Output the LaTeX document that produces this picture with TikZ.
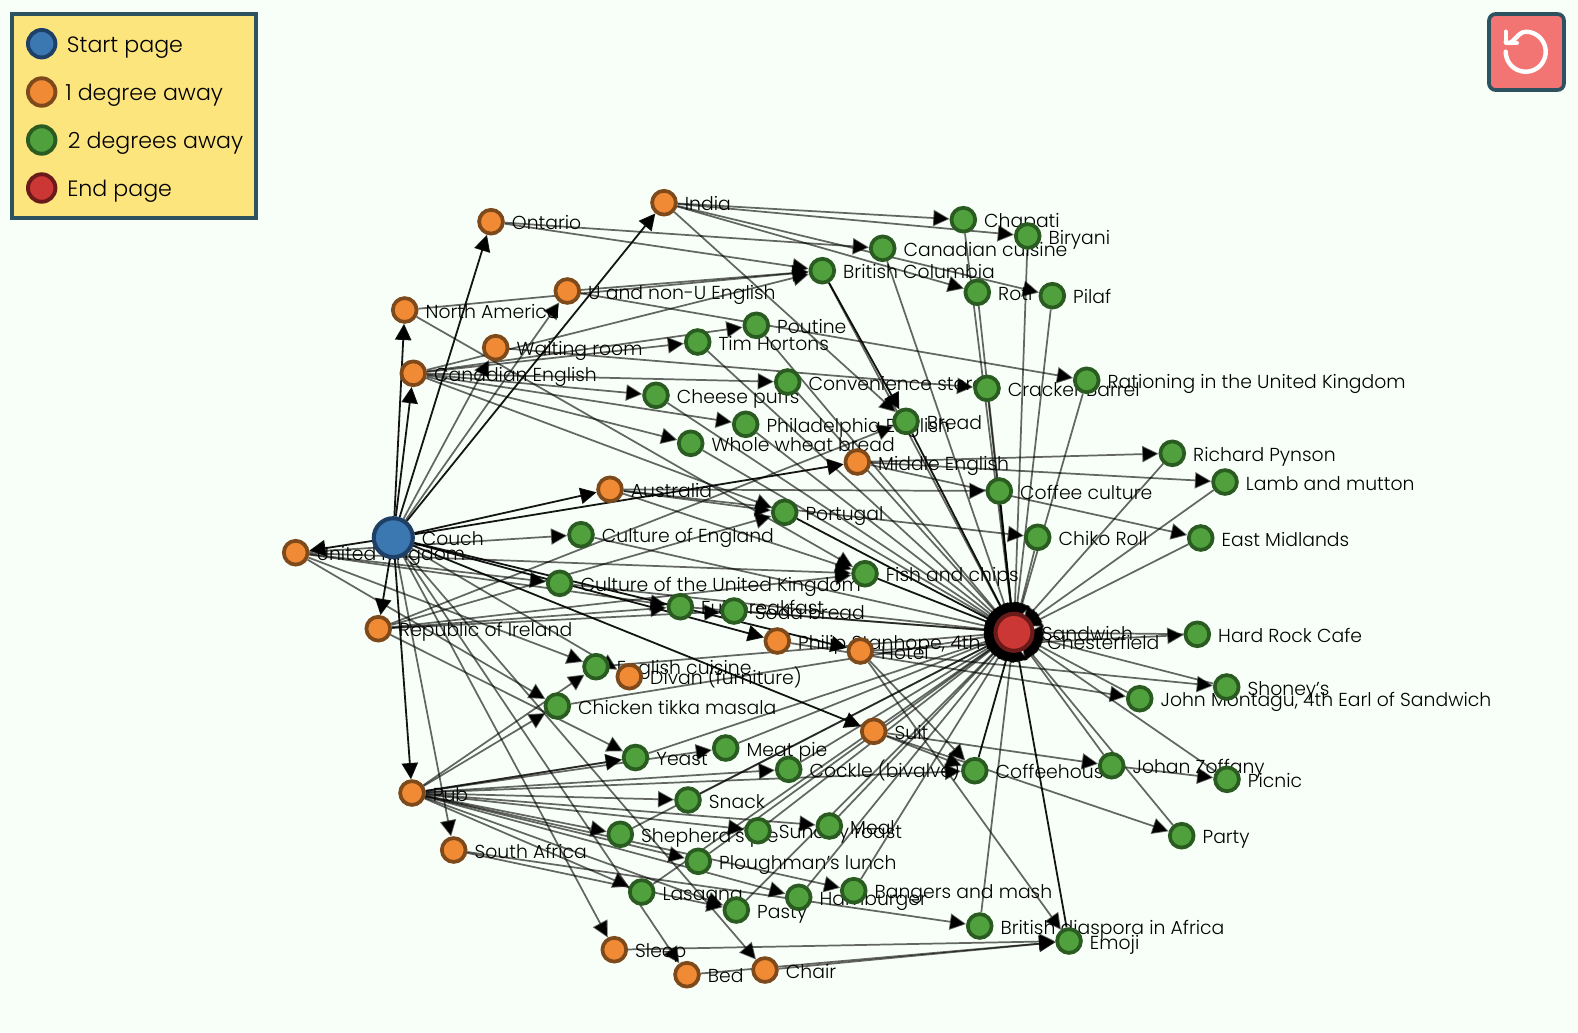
\documentclass[tikz,border=0pt]{standalone}
\usepackage{fontspec}
\setmainfont{Poppins Light}
\usetikzlibrary{arrows.meta}
\pgfdeclarelayer{bglayer}
\pgfdeclarelayer{edgelayer}
\pgfdeclarelayer{labellayer}
\pgfsetlayers{bglayer,edgelayer,labellayer,main}
\definecolor{pagebg}{HTML}{F8FFF8}
\definecolor{slate}{HTML}{2D5361}
\definecolor{legendbg}{HTML}{FDE57E}
\definecolor{resetbg}{HTML}{F27573}
\definecolor{bluefill}{HTML}{3B77B0}\definecolor{bluedark}{HTML}{1E3F66}
\definecolor{orangefill}{HTML}{F18A35}\definecolor{orangedark}{HTML}{7E4A1B}
\definecolor{greenfill}{HTML}{50A03E}\definecolor{greendark}{HTML}{2A5B20}
\definecolor{redfill}{HTML}{CB3734}\definecolor{reddark}{HTML}{6B1A1A}
\tikzset{
  x=0.75pt,y=-0.75pt,
  dot/.style={circle,inner sep=0pt,minimum size=23.8*0.75pt,line width=2.8pt},
  startdot/.style={dot,draw=bluedark,fill=bluefill},
  onedot/.style={dot,draw=orangedark,fill=orangefill},
  twodot/.style={dot,draw=greendark,fill=greenfill},
  enddot/.style={dot,draw=reddark,fill=redfill},
  bigstart/.style={startdot,minimum size=39*0.75pt,line width=3.1pt},
  bigend/.style={enddot,minimum size=37*0.75pt,line width=3.1pt},
  keydot/.style={minimum size=27.5*0.75pt,line width=2.9pt},
  lbl/.style={anchor=base west,inner sep=0pt,font=\fontsize{14.1pt}{16pt}\selectfont,text=black},
  keytext/.style={anchor=base west,inner sep=0pt,font=\fontsize{16.6pt}{18pt}\selectfont,text=black},
  tipped/.style={-{Triangle[length=12.2pt,width=12.2pt,fill=black,color=black]}},
  lnk/.style={tipped,draw=black,draw opacity=.6,line width=1.3pt},
  dark/.style={tipped,draw=black,draw opacity=.92,line width=1.35pt},
  toend/.style={shorten >=-5.6pt},
}
\newcommand{\gnode}[5]{%
  \node[#1] (#2) at (#3,#4) {};
  \begin{pgfonlayer}{labellayer}
    \node[lbl,xshift=15.5pt,yshift=-6pt] (#2txt) at (#3,#4) {#5};
  \end{pgfonlayer}}
\begin{document}
\begin{tikzpicture}
\useasboundingbox (0,0) rectangle (1578,1032);
\begin{pgfonlayer}{bglayer}
\fill[pagebg] (0,0) rectangle (1578,1032);
\end{pgfonlayer}

% legend
\node[draw=slate,fill=legendbg,line width=2.8pt,minimum width=244*0.75pt,minimum height=204*0.75pt,inner sep=0pt] (legend) at (134,116) {};
\node[startdot,keydot] (k1) at (41.7,43.7) {};
\node[onedot,keydot] (k2) at (41.7,92) {};
\node[twodot,keydot] (k3) at (41.7,140) {};
\node[enddot,keydot] (k4) at (41.7,188) {};
\node[keytext] (k1t) at (66.7,52) {Start page};
\node[keytext] (k2t) at (65,100) {1 degree away};
\node[keytext] (k3t) at (67.7,148) {2 degrees away};
\node[keytext] (k4t) at (67,196) {End page};

% reset button
\node[draw=slate,fill=resetbg,line width=2.8pt,rounded corners=5pt,minimum width=75*0.75pt,minimum height=76*0.75pt,inner sep=0pt] (reset) at (1526.5,52) {};
\draw[white,line width=3.3pt,line cap=round,line join=round] plot[smooth,domain=180:-90,samples=40] ({1525.7+20*cos(\x)},{51.7+20*sin(\x)}) to[out=180,in=-45] (1505.7,41.7);
\draw[white,line width=3.3pt,line cap=round,line join=round] (1505.7,31.7) -- (1505.7,42.8) -- (1516.8,42.8);

% one-degree
\gnode{onedot}{uk}{295.7}{552.7}{United Kingdom}
\gnode{onedot}{nam}{404.7}{310}{North America}
\gnode{onedot}{cane}{413.3}{373.3}{Canadian English}
\gnode{onedot}{ont}{491}{221.7}{Ontario}
\gnode{onedot}{unon}{567.3}{291}{U and non-U English}
\gnode{onedot}{wait}{495.7}{347.7}{Waiting room}
\gnode{onedot}{india}{664}{202.7}{India}
\gnode{onedot}{aus}{610}{489.3}{Australia}
\gnode{onedot}{mide}{857.3}{462}{Middle English}
\gnode{onedot}{roi}{378.3}{628.7}{Republic of Ireland}
\gnode{onedot}{divan}{629.3}{676.7}{Divan (furniture)}
\gnode{onedot}{phil}{777.3}{641}{Philip Stanhope, 4th Earl of Chesterfield}
\gnode{onedot}{hotel}{860.3}{651}{Hotel}
\gnode{onedot}{suit}{873.7}{731.3}{Suit}
\gnode{onedot}{pub}{412}{793}{Pub}
\gnode{onedot}{sa}{453.7}{850}{South Africa}
\gnode{onedot}{sleep}{614.3}{949.7}{Sleep}
\gnode{onedot}{bed}{687}{974.7}{Bed}
\gnode{onedot}{chair}{765}{970}{Chair}
% two-degree
\gnode{twodot}{chap}{963.3}{219.7}{Chapati}
\gnode{twodot}{bir}{1027.7}{236}{Biryani}
\gnode{twodot}{ccui}{882.7}{248.3}{Canadian cuisine}
\gnode{twodot}{bc}{822.3}{270.7}{British Columbia}
\gnode{twodot}{roti}{977.3}{292.3}{Roti}
\gnode{twodot}{pilaf}{1052.3}{295.7}{Pilaf}
\gnode{twodot}{pout}{756.3}{325.3}{Poutine}
\gnode{twodot}{tim}{697.7}{342}{Tim Hortons}
\gnode{twodot}{conv}{787.7}{382}{Convenience store}
\gnode{twodot}{crack}{987}{388.3}{Cracker Barrel}
\gnode{twodot}{ration}{1086.7}{380.3}{Rationing in the United Kingdom}
\gnode{twodot}{chee}{656}{395.3}{Cheese puffs}
\gnode{twodot}{phila}{745.7}{424.3}{Philadelphia English}
\gnode{twodot}{whole}{690.7}{443.3}{Whole wheat bread}
\gnode{twodot}{bread}{906}{421.3}{Bread}
\gnode{twodot}{rich}{1172.3}{453.3}{Richard Pynson}
\gnode{twodot}{lamb}{1225}{482}{Lamb and mutton}
\gnode{twodot}{cof}{999.3}{491}{Coffee culture}
\gnode{twodot}{port}{784.7}{512.3}{Portugal}
\gnode{twodot}{chiko}{1037.7}{537.3}{Chiko Roll}
\gnode{twodot}{east}{1200.7}{538}{East Midlands}
\gnode{twodot}{ceng}{581}{534.7}{Culture of England}
\gnode{twodot}{cuk}{559.7}{583.3}{Culture of the United Kingdom}
\gnode{twodot}{fish}{865}{573.7}{Fish and chips}
\gnode{twodot}{full}{680.3}{606.7}{Full breakfast}
\gnode{twodot}{soda}{734}{611}{Soda bread}
\gnode{twodot}{hard}{1197.3}{634.3}{Hard Rock Cafe}
\gnode{twodot}{engl}{596}{666.7}{English cuisine}
\gnode{twodot}{shon}{1226.7}{687}{Shoney's}
\gnode{twodot}{john}{1139.7}{698.7}{John Montagu, 4th Earl of Sandwich}
\gnode{twodot}{chick}{557.3}{706}{Chicken tikka masala}
\gnode{twodot}{meat}{725.7}{748}{Meat pie}
\gnode{twodot}{yeast}{635.5}{757.5}{Yeast}
\gnode{twodot}{cock}{788.7}{769.3}{Cockle (bivalve)}
\gnode{twodot}{cofh}{974.8}{770.7}{Coffeehouse}
\gnode{twodot}{johan}{1111.7}{765.7}{Johan Zoffany}
\gnode{twodot}{pic}{1227}{779.3}{Picnic}
\gnode{twodot}{snack}{688}{800}{Snack}
\gnode{twodot}{meal}{829.3}{826}{Meal}
\gnode{twodot}{sun}{758}{830.7}{Sunday roast}
\gnode{twodot}{shep}{620.3}{834.3}{Shepherd's pie}
\gnode{twodot}{party}{1181.7}{835.7}{Party}
\gnode{twodot}{plou}{698.3}{861.3}{Ploughman's lunch}
\gnode{twodot}{bang}{853.7}{890.7}{Bangers and mash}
\gnode{twodot}{las}{641.7}{892}{Lasagna}
\gnode{twodot}{ham}{798.7}{897.3}{Hamburger}
\gnode{twodot}{pasty}{736.3}{910}{Pasty}
\gnode{twodot}{dias}{979.7}{926}{British diaspora in Africa}
\gnode{twodot}{emoji}{1069}{941}{Emoji}
% start, end
\node[bigstart] (couch) at (393.3,537.7) {};
\begin{pgfonlayer}{labellayer}
\node[lbl] (coucht) at (421.5,545.7) {Couch};
\node[lbl] (sandt) at (1041.7,640.3) {Sandwich};
\end{pgfonlayer}
\node[bigend] (sand) at (1014,632.3) {};

\begin{pgfonlayer}{edgelayer}
% start to one-degree
\foreach \b in {uk,nam,cane,ont,india,aus,mide,roi,pub,phil,suit,hotel}
  \draw[dark] (couch) -- (\b);
\foreach \b in {unon,wait,sa,sleep,bed,chair,divan}
  \draw[lnk] (couch) -- (\b);
% one-degree to two-degree
\foreach \a/\b in {
  india/chap,india/bir,india/roti,india/pilaf,india/bread,
  ont/ccui,ont/bc,unon/bc,unon/ration,nam/bc,nam/fish,
  cane/bc,cane/tim,cane/pout,cane/conv,cane/chee,cane/phila,cane/whole,cane/port,
  wait/crack,
  aus/cof,aus/chiko,aus/port,aus/fish,
  mide/rich,mide/lamb,mide/east,
  uk/ceng,uk/cuk,uk/full,uk/fish,uk/chick,uk/engl,
  roi/port,roi/bread,roi/full,roi/soda,roi/yeast,roi/fish,
  pub/chick,pub/engl,pub/yeast,pub/yeast,pub/meat,pub/cock,pub/cofh,pub/snack,
  pub/shep,pub/sun,pub/meal,pub/plou,pub/las,pub/pasty,pub/ham,pub/bang,
  sa/dias,sa/pasty,
  sleep/emoji,bed/emoji,chair/emoji,
  hotel/emoji,hotel/cofh,hotel/shon,hotel/hard,
  suit/cofh,suit/party,suit/johan,johan/pic,
  phil/john}
  \draw[lnk] (\a) -- (\b);
\draw[dark] (bc) -- (bread);
% two-degree to end
\foreach \a in {chap,bir,ccui,roti,pilaf,pout,tim,conv,ration,chee,phila,whole,
  rich,lamb,chiko,east,ceng,cuk,full,soda,hard,engl,shon,john,chick,meat,yeast,
  cock,johan,pic,snack,meal,sun,shep,party,plou,bang,las,ham,pasty,dias,crack,bc}
  \draw[lnk,toend] (\a) -- (sand);
\foreach \a in {bread,cof,port,fish,cofh,emoji}
  \draw[dark,toend] (\a) -- (sand);
\end{pgfonlayer}
\end{tikzpicture}
\end{document}
